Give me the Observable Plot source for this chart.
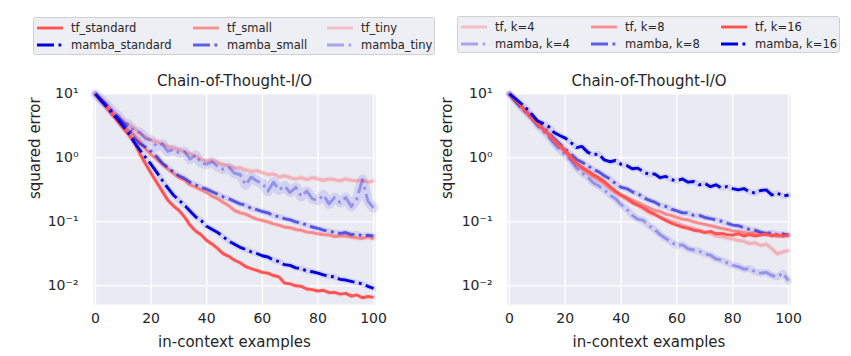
<!DOCTYPE html>
<html><head><meta charset="utf-8">
<script src="https://cdn.jsdelivr.net/npm/d3@7"></script>
<script src="https://cdn.jsdelivr.net/npm/@observablehq/plot@0.6"></script>
<style>
body{margin:0;background:#fff;font-family:"DejaVu Sans",sans-serif;}
#wrap{position:relative;width:851px;height:356px;overflow:hidden;background:#fff;}
.legend{position:absolute;box-sizing:border-box;border:1px solid #d0d0d0;border-radius:3px;background:rgba(234,234,242,0.8);}
.item{position:absolute;display:flex;align-items:center;font-size:11.5px;color:#262626;white-space:nowrap;height:14px;}
.item svg{margin-right:8px;display:block}
.panel{position:absolute;top:60px;}
</style></head><body><div id="wrap"></div>
<script>
// ---------- data ----------
const steps = [0,2,4,6,8,10,12,14,16,18,20,22,24,26,28,30,32,34,36,38,40,42,44,46,48,50,52,54,56,58,60,62,64,66,68,70,72,74,76,78,80,82,84,86,88,90,92,94,96,98,100];
const xTicks = [0, 20, 40, 60, 80, 100];
const yTicks = [0.01, 0.1, 1, 10];
const yTickLabels = ["10⁻²", "10⁻¹", "10⁰", "10¹"];
const panelTitle = "Chain-of-Thought-I/O";
const xLabel = "in-context examples";
const yLabel = "squared error";

// left panel (model size)
const tfStandard = [10, 7.9, 6.2, 4.8, 3.7, 2.9, 2.3, 1.74, 1.15, 0.81, 0.575, 0.417, 0.302, 0.219, 0.178, 0.151, 0.120, 0.089, 0.072, 0.063, 0.051, 0.0447, 0.038, 0.0316, 0.0288, 0.0251, 0.0229, 0.020, 0.0186, 0.0174, 0.0162, 0.0158, 0.0145, 0.0138, 0.011, 0.0107, 0.010, 0.0098, 0.0089, 0.0087, 0.0083, 0.0085, 0.0078, 0.0079, 0.0074, 0.0076, 0.0069, 0.0072, 0.0065, 0.0068, 0.0066];
const mambaStandard = [10, 7.9, 6.3, 5.0, 4.0, 3.1, 2.4, 1.74, 1.32, 1.02, 0.79, 0.60, 0.447, 0.339, 0.263, 0.219, 0.182, 0.148, 0.120, 0.105, 0.085, 0.076, 0.068, 0.058, 0.050, 0.0447, 0.040, 0.037, 0.034, 0.032, 0.0295, 0.0282, 0.0251, 0.024, 0.0214, 0.0209, 0.0191, 0.0186, 0.017, 0.0166, 0.0158, 0.0148, 0.0141, 0.0138, 0.0126, 0.0123, 0.0117, 0.0112, 0.0107, 0.0098, 0.0091];
const tfSmall = [10, 7.9, 6.3, 5.0, 4.0, 3.16, 2.63, 2.24, 1.82, 1.38, 1.12, 0.955, 0.794, 0.676, 0.575, 0.490, 0.447, 0.380, 0.347, 0.316, 0.288, 0.251, 0.229, 0.200, 0.178, 0.151, 0.138, 0.132, 0.120, 0.110, 0.105, 0.100, 0.093, 0.089, 0.083, 0.081, 0.076, 0.074, 0.069, 0.068, 0.065, 0.063, 0.062, 0.059, 0.060, 0.060, 0.058, 0.056, 0.055, 0.058, 0.054];
const mambaSmall = [10, 8.1, 6.6, 5.25, 4.27, 3.47, 2.88, 2.0, 1.66, 1.48, 1.26, 1.05, 0.83, 0.71, 0.60, 0.525, 0.479, 0.417, 0.380, 0.347, 0.324, 0.295, 0.269, 0.245, 0.229, 0.209, 0.191, 0.182, 0.162, 0.155, 0.145, 0.138, 0.126, 0.120, 0.112, 0.107, 0.100, 0.0955, 0.089, 0.083, 0.079, 0.074, 0.072, 0.068, 0.066, 0.068, 0.063, 0.065, 0.060, 0.062, 0.060];
const tfTiny = [10, 8.3, 6.9, 5.5, 4.6, 3.8, 3.3, 2.9, 2.4, 2.14, 1.9, 1.78, 1.66, 1.51, 1.41, 1.35, 1.23, 1.15, 1.07, 0.955, 0.891, 0.912, 0.832, 0.794, 0.741, 0.692, 0.708, 0.646, 0.617, 0.631, 0.589, 0.550, 0.562, 0.501, 0.525, 0.490, 0.468, 0.490, 0.457, 0.490, 0.468, 0.447, 0.468, 0.457, 0.437, 0.468, 0.447, 0.437, 0.447, 0.417, 0.437];
const mambaTiny = [10, 8.3, 6.8, 5.4, 4.6, 3.6, 3.3, 2.63, 2.5, 2.0, 1.9, 1.51, 1.66, 1.26, 1.35, 1.20, 1.26, 0.955, 1.10, 0.832, 0.794, 0.871, 0.724, 0.661, 0.708, 0.575, 0.550, 0.380, 0.501, 0.437, 0.398, 0.302, 0.417, 0.316, 0.363, 0.288, 0.347, 0.251, 0.302, 0.229, 0.219, 0.263, 0.191, 0.240, 0.200, 0.240, 0.174, 0.229, 0.457, 0.209, 0.166];

// right panel (k)
const tfK4 = [10, 7.9, 6.5, 5.1, 4.07, 3.31, 2.75, 2.24, 1.78, 1.48, 1.20, 0.955, 0.776, 0.661, 0.562, 0.501, 0.437, 0.389, 0.331, 0.282, 0.251, 0.224, 0.200, 0.182, 0.158, 0.138, 0.129, 0.120, 0.110, 0.102, 0.098, 0.089, 0.083, 0.079, 0.074, 0.069, 0.066, 0.060, 0.059, 0.056, 0.054, 0.051, 0.050, 0.0457, 0.0468, 0.0427, 0.0447, 0.038, 0.0316, 0.0339, 0.0355];
const tfK8 = [10, 8.1, 6.5, 5.25, 4.17, 3.39, 2.82, 2.34, 1.86, 1.51, 1.26, 1.0, 0.813, 0.692, 0.603, 0.525, 0.468, 0.407, 0.347, 0.295, 0.263, 0.240, 0.219, 0.200, 0.182, 0.166, 0.151, 0.145, 0.132, 0.126, 0.117, 0.110, 0.107, 0.100, 0.0955, 0.091, 0.087, 0.083, 0.079, 0.076, 0.072, 0.071, 0.068, 0.066, 0.068, 0.065, 0.062, 0.063, 0.059, 0.062, 0.060];
const tfK16 = [10, 8.1, 6.6, 5.25, 4.27, 3.47, 2.88, 2.4, 1.9, 1.58, 1.32, 1.05, 0.832, 0.708, 0.631, 0.550, 0.490, 0.427, 0.355, 0.302, 0.263, 0.234, 0.200, 0.182, 0.166, 0.145, 0.132, 0.117, 0.105, 0.0955, 0.089, 0.083, 0.079, 0.074, 0.072, 0.068, 0.071, 0.065, 0.066, 0.063, 0.062, 0.065, 0.060, 0.063, 0.060, 0.062, 0.065, 0.060, 0.063, 0.059, 0.063];
const mambaK4 = [10, 7.9, 6.3, 5.1, 4.2, 3.16, 2.63, 2.14, 1.66, 1.32, 1.10, 0.912, 0.692, 0.575, 0.501, 0.407, 0.363, 0.316, 0.263, 0.229, 0.186, 0.158, 0.126, 0.110, 0.105, 0.087, 0.076, 0.063, 0.055, 0.048, 0.0427, 0.0437, 0.038, 0.0363, 0.0347, 0.0316, 0.0302, 0.0263, 0.0251, 0.0229, 0.0209, 0.020, 0.0182, 0.0186, 0.0166, 0.0158, 0.0162, 0.0145, 0.0138, 0.0158, 0.0120];
const mambaK8 = [10, 7.9, 6.3, 5.25, 4.37, 3.55, 3.02, 2.51, 2.0, 1.66, 1.38, 1.15, 0.955, 0.851, 0.759, 0.661, 0.603, 0.525, 0.468, 0.398, 0.347, 0.331, 0.295, 0.275, 0.240, 0.219, 0.204, 0.182, 0.174, 0.158, 0.148, 0.138, 0.138, 0.126, 0.126, 0.117, 0.112, 0.107, 0.102, 0.0955, 0.089, 0.087, 0.081, 0.076, 0.074, 0.069, 0.066, 0.068, 0.063, 0.065, 0.062];
const mambaK16 = [10, 8.5, 7.2, 6.0, 4.8, 3.8, 3.47, 3.1, 2.5, 2.24, 2.04, 1.74, 1.45, 1.51, 1.23, 1.12, 1.15, 0.93, 0.87, 0.91, 0.794, 0.759, 0.676, 0.692, 0.603, 0.550, 0.562, 0.490, 0.513, 0.457, 0.437, 0.468, 0.417, 0.427, 0.380, 0.398, 0.355, 0.380, 0.339, 0.355, 0.331, 0.316, 0.331, 0.295, 0.282, 0.309, 0.316, 0.263, 0.282, 0.251, 0.263];

const leftLegendLabels = ["tf_standard", "tf_small", "tf_tiny", "mamba_standard", "mamba_small", "mamba_tiny"];
const rightLegendLabels = ["tf, k=4", "tf, k=8", "tf, k=16", "mamba, k=4", "mamba, k=8", "mamba, k=16"];

// ---------- styles ----------
const TF = "#ff5252", MB = "#0000dd";
const DASH = "17,4.5,2.8,4.5";
const leftSeries = [
  {label: "tf_tiny", v: tfTiny, c: TF, o: 0.3, dash: null, halo: 5},
  {label: "mamba_tiny", v: mambaTiny, c: MB, o: 0.3, dash: DASH, halo: 10},
  {label: "tf_small", v: tfSmall, c: TF, o: 0.6, dash: null, halo: 5},
  {label: "mamba_small", v: mambaSmall, c: MB, o: 0.6, dash: DASH, halo: 6},
  {label: "tf_standard", v: tfStandard, c: TF, o: 1, dash: null, halo: 5},
  {label: "mamba_standard", v: mambaStandard, c: MB, o: 1, dash: DASH, halo: 6}
];
const rightSeries = [
  {label: "tf, k=4", v: tfK4, c: TF, o: 0.3, dash: null, halo: 5},
  {label: "mamba, k=4", v: mambaK4, c: MB, o: 0.3, dash: DASH, halo: 7},
  {label: "tf, k=8", v: tfK8, c: TF, o: 0.6, dash: null, halo: 5},
  {label: "mamba, k=8", v: mambaK8, c: MB, o: 0.6, dash: DASH, halo: 6},
  {label: "tf, k=16", v: tfK16, c: TF, o: 1, dash: null, halo: 5},
  {label: "mamba, k=16", v: mambaK16, c: MB, o: 1, dash: DASH, halo: 6}
];

function table(values) { return steps.map((x, i) => ({x, y: values[i]})); }

function panel(series, opts) {
  const marks = [
    Plot.frame({fill: "#eaeaf2", stroke: "none"}),
    Plot.gridX(xTicks, {stroke: "#ffffff", strokeOpacity: 1, strokeWidth: 1.3}),
    Plot.gridY(yTicks, {stroke: "#ffffff", strokeOpacity: 1, strokeWidth: 1.3}),
    Plot.axisX(xTicks, {tickSize: 0, tickPadding: 9, fontSize: 14, label: null}),
    Plot.axisY(yTicks, {tickSize: 0, tickPadding: 15, fontSize: 14, label: null,
      tickFormat: d => yTickLabels[yTicks.indexOf(d)]})
  ];
  for (const s of series) {
    marks.push(Plot.line(table(s.v), {x: "x", y: "y", stroke: s.c, strokeOpacity: 0.1,
      strokeWidth: s.halo, strokeLinejoin: "round", strokeLinecap: "round"}));
  }
  for (const s of series) {
    marks.push(Plot.line(table(s.v), {x: "x", y: "y", stroke: s.c, strokeOpacity: s.o,
      strokeWidth: 2.9, strokeDasharray: s.dash || undefined, strokeLinejoin: "round",
      strokeLinecap: "butt"}));
  }
  marks.push(Plot.text([panelTitle], {frameAnchor: "top", dy: -12, lineAnchor: "middle", fontSize: 15, fill: "#262626"}));
  marks.push(Plot.text([xLabel], {frameAnchor: "bottom", dy: 38, lineAnchor: "middle", fontSize: 15, fill: "#262626"}));
  marks.push(Plot.text([yLabel], {frameAnchor: "left", dx: opts.ylabelDx, rotate: -90, lineAnchor: "middle", fontSize: 15, fill: "#262626"}));
  return Plot.plot({
    width: opts.width, height: 296,
    marginTop: 33, marginBottom: 52, marginLeft: opts.ml, marginRight: opts.mr,
    style: {fontFamily: "DejaVu Sans, sans-serif", fontSize: "14px", color: "#262626", background: "transparent", overflow: "visible"},
    x: {domain: [-0.7, 100.7]},
    y: {type: "log", domain: [0.0051, 10.15]},
    marks
  });
}

function legend(labels, series, box, cols, rows) {
  const div = document.createElement("div");
  div.className = "legend";
  Object.assign(div.style, {left: box.x + "px", top: box.y + "px", width: box.w + "px", height: box.h + "px"});
  labels.forEach((lab, i) => {
    const s = series.find(d => d.label === lab);
    const item = document.createElement("div");
    item.className = "item";
    item.style.left = cols[i % 3] + "px";
    item.style.top = (rows[Math.floor(i / 3)] - 7) + "px";
    item.innerHTML = `<svg width="26" height="8"><line x1="0" x2="26" y1="4" y2="4" stroke="${s.c}" stroke-opacity="${s.o}" stroke-width="2.9" ${s.dash ? `stroke-dasharray="${s.dash}"` : ""}/></svg><span>${lab}</span>`;
    div.appendChild(item);
  });
  return div;
}

const wrap = document.getElementById("wrap");
const p1 = panel(leftSeries, {width: 425, ml: 93, mr: 50, ylabelDx: -58});
p1.classList.add("panel"); p1.style.left = "0px";
const p2 = panel(rightSeries, {width: 426, ml: 82, mr: 61, ylabelDx: -60});
p2.classList.add("panel"); p2.style.left = "425px";
wrap.appendChild(p1);
wrap.appendChild(p2);
wrap.appendChild(legend(leftLegendLabels, leftSeries, {x: 33, y: 17, w: 402, h: 38}, [3, 159, 293], [10, 27]));
wrap.appendChild(legend(rightLegendLabels, rightSeries, {x: 457, y: 16, w: 383, h: 37}, [3, 133, 263], [10, 27]));
</script></body></html>
